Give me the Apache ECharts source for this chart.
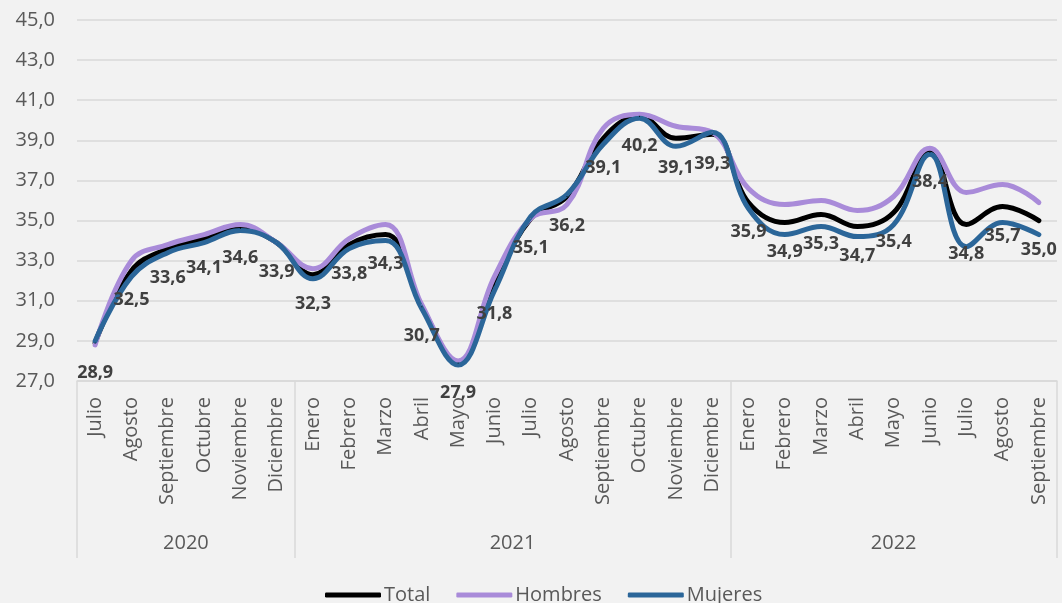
<!DOCTYPE html>
<html>
<head>
<meta charset="utf-8">
<script src="https://cdn.jsdelivr.net/npm/echarts@6/dist/echarts.min.js"></script>
<style>
html,body{margin:0;padding:0;background:#f2f2f2;}
#c{width:1062px;height:603px;}
</style>
</head>
<body>
<div id="c"></div>
<script>
const months = ['Julio','Agosto','Septiembre','Octubre','Noviembre','Diciembre',
  'Enero','Febrero','Marzo','Abril','Mayo','Junio','Julio','Agosto','Septiembre','Octubre','Noviembre','Diciembre',
  'Enero','Febrero','Marzo','Abril','Mayo','Junio','Julio','Agosto','Septiembre'];
const years = ['2020','2021','2022'];
const yearSizes = [6, 12, 9];
const total = [28.9,32.5,33.6,34.1,34.6,33.9,32.3,33.8,34.3,30.7,27.9,31.8,35.1,36.2,39.1,40.2,39.1,39.3,35.9,34.9,35.3,34.7,35.4,38.4,34.8,35.7,35.0];
const hombres = [28.8,33.0,33.8,34.3,34.8,33.9,32.6,34.1,34.8,30.8,28.0,32.2,35.1,35.8,39.6,40.3,39.7,39.4,36.6,35.8,36.0,35.5,36.2,38.6,36.4,36.8,35.9];
const mujeres = [29.0,32.2,33.4,33.9,34.5,33.9,32.1,33.6,34.0,30.6,27.8,31.5,35.2,36.3,38.8,40.1,38.7,39.4,35.6,34.3,34.7,34.2,34.8,38.3,33.7,34.9,34.3];

const fmt = v => Number(v).toFixed(1).replace('.', ',');
// group boundaries and centers
const bounds = [0]; const centers = [];
yearSizes.forEach((s, i) => { centers.push(bounds[i] + s / 2); bounds.push(bounds[i] + s); });

const FONT = 'Open Sans';
const gridLine = '#d9d9d9';
const txt = '#595959';

function mk(name, data, color, withLabel) {
  return {
    name, type: 'line', data, xAxisIndex: 0, yAxisIndex: 0,
    smooth: 0.4,
    symbol: 'circle', symbolSize: 1,
    itemStyle: { color },
    lineStyle: { width: 5, color, cap: 'round', join: 'round' },
    label: withLabel ? {
      show: true, position: 'bottom', distance: 20,
      formatter: p => fmt(p.value),
      fontFamily: FONT, fontWeight: 'bold', fontSize: 18, color: '#404040'
    } : { show: false },
    emphasis: { disabled: true },
    animation: false
  };
}

const chart = echarts.init(document.getElementById('c'));
chart.setOption({
  backgroundColor: '#f2f2f2',
  animation: false,
  grid: { left: 77, right: 5, top: 20, bottom: 222, containLabel: false },
  legend: {
    data: ['Total', 'Hombres', 'Mujeres'],
    top: 580, left: 320,
    icon: 'roundRect', itemWidth: 56, itemHeight: 5, itemGap: 26,
    textStyle: { fontFamily: FONT, fontSize: 20, color: txt, padding: [0, 0, 0, -2] }
  },
  xAxis: [
    {
      type: 'category', data: months, boundaryGap: true, position: 'bottom',
      axisLine: { show: true, lineStyle: { color: gridLine, width: 1.5 } },
      axisTick: { show: false },
      axisLabel: { rotate: 90, margin: 16, interval: 0, fontFamily: FONT, fontSize: 20, color: txt }
    },
    {
      type: 'value', min: 0, max: months.length, position: 'bottom',
      axisLine: { show: false },
      splitLine: { show: false },
      axisTick: { show: true, customValues: bounds, length: 177, lineStyle: { color: gridLine, width: 1.5 } },
      axisLabel: {
        show: true, customValues: centers, margin: 152,
        formatter: v => { const i = centers.indexOf(v); return i >= 0 ? years[i] : ''; },
        fontFamily: FONT, fontSize: 20, color: txt
      }
    }
  ],
  yAxis: {
    type: 'value', min: 27, max: 45, interval: 2,
    axisLine: { show: false }, axisTick: { show: false },
    splitLine: { show: true, lineStyle: { color: gridLine, width: 1.5 } },
    axisLabel: { formatter: v => fmt(v), margin: 22, fontFamily: FONT, fontSize: 20, color: txt }
  },
  series: [
    mk('Total', total, '#000000', true),
    mk('Hombres', hombres, '#a98bd9', false),
    mk('Mujeres', mujeres, '#2b6699', false)
  ]
});
</script>
</body>
</html>
